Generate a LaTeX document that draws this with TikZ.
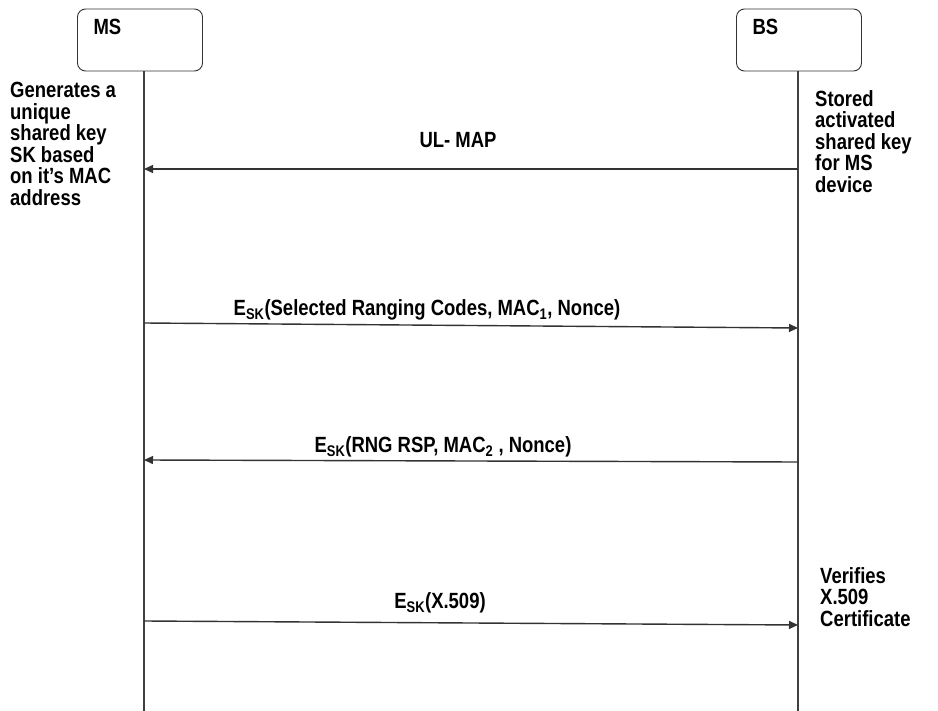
\documentclass[tikz,border=0pt]{standalone}
\usepackage{fontspec}
\setmainfont{Liberation Sans}[FakeStretch=0.84]
\usetikzlibrary{arrows.meta, positioning}

\begin{document}
\begin{tikzpicture}[x=1pt, y=-1pt,
  box/.style      = {draw=black!80, rounded corners=8pt, line width=0.9pt,
                     minimum width=125pt, text width=93pt, inner xsep=16pt,
                     inner ysep=10pt, text height=16pt, text depth=26pt,
                     align=left, font=\fontsize{22}{24}\selectfont\bfseries},
  note/.style     = {anchor=north west, align=left, inner sep=0pt,
                     font=\fontsize{22}{21.6}\selectfont\bfseries},
  lbl/.style      = {inner sep=0pt, font=\fontsize{22}{24}\selectfont\bfseries},
  lifeline/.style = {draw=black!75, line width=1.4pt},
  msg/.style      = {-{Triangle[length=9pt, width=8pt]}, line width=1.4pt,
                     draw=black!80}
]
\useasboundingbox (0,0) rectangle (938,711);

% entities
\node[box] (ms) at (140,40)  {MS};
\node[box] (bs) at (799,40)  {BS};

\coordinate (mstop) at ([xshift=4pt]ms.south);
\coordinate (bstop) at ([xshift=-1pt]bs.south);
\coordinate (msend) at (mstop |- 0,711);
\coordinate (bsend) at (bstop |- 0,711);
\draw[lifeline] (mstop) -- (msend);
\draw[lifeline] (bstop) -- (bsend);

% message end points on the lifelines
\foreach \n/\ya/\yb in {1/169/169, 2/323/328, 3/460/462, 4/621/625} {
  \coordinate (m\n) at (mstop |- 0,\ya);
  \coordinate (b\n) at (bstop |- 0,\yb);
}

\draw[msg] (b1) -- (m1);
\draw[msg] (m2) -- (b2);
\draw[msg] (b3) -- (m3);
\draw[msg] (m4) -- (b4);

\node[lbl] (ulmap) at (458,140) {UL- MAP};
\node[lbl] (rng)   at (427,310) {E\textsubscript{SK}(Selected Ranging Codes, MAC\textsubscript{1}, Nonce)};
\node[lbl] (rsp)   at (443,447) {E\textsubscript{SK}(RNG RSP, MAC\textsubscript{2} , Nonce)};
\node[lbl] (cert)  at (440,603) {E\textsubscript{SK}(X.509)};

% side notes
\node[note] (gen)    at (10,82)   {Generates a\\unique\\shared key\\SK based\\on it's MAC\\address};
\node[note] (stored) at (815,90)  {Stored\\activated\\shared key\\for MS\\device};
\node[note] (verify) at (820,567) {Verifies\\X.509\\Certificate};
\end{tikzpicture}
\end{document}
